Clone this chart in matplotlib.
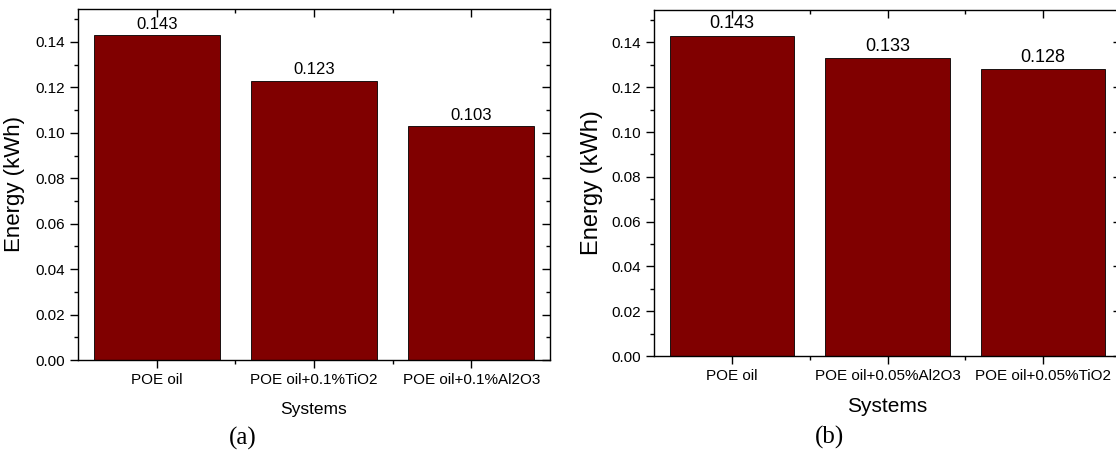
import numpy as np
import matplotlib
matplotlib.use("Agg")
import matplotlib.pyplot as plt
from matplotlib.ticker import MultipleLocator, FixedLocator

plt.rcParams['font.family'] = ['Liberation Sans', 'DejaVu Sans']

# data
systems_a = ["POE oil", "POE oil+0.1%TiO2", "POE oil+0.1%Al2O3"]
energy_a = [0.143, 0.123, 0.103]
systems_b = ["POE oil", "POE oil+0.05%Al2O3", "POE oil+0.05%TiO2"]
energy_b = [0.143, 0.133, 0.128]

BAR = "#800000"

fig = plt.figure(figsize=(11.16, 4.54), dpi=100)
ax_a = fig.add_axes([78/1116, 94/454, 472/1116, 351/454])
ax_b = fig.add_axes([654/1116, 98/454, 467/1116, 346/454])


def panel(ax, cats, vals, fs_val, fs_xlab, fs_ylab, ylab_x, xlab_y):
    x = np.arange(len(cats))
    bars = ax.bar(x, vals, width=0.8, color=BAR, edgecolor="black", linewidth=0.6)
    for b, v in zip(bars, vals):
        ax.annotate(f"{v:.3f}", (b.get_x() + b.get_width()/2, v),
                    xytext=(0, 2.5), textcoords="offset points",
                    ha="center", va="bottom", fontsize=fs_val)
    ax.set_xlim(-0.5, len(cats) - 0.5)
    ax.set_ylim(0, 0.1545)
    ax.set_xticks(x)
    ax.set_xticklabels(cats, fontsize=11)
    ax.xaxis.set_minor_locator(FixedLocator(x[:-1] + 0.5))
    ax.yaxis.set_major_locator(MultipleLocator(0.02))
    ax.yaxis.set_minor_locator(MultipleLocator(0.01))
    ax.yaxis.set_major_formatter(matplotlib.ticker.FormatStrFormatter("%.2f"))
    ax.tick_params(axis="y", labelsize=11)
    ax.tick_params(which="major", length=6, width=1, direction="out", pad=3)
    ax.tick_params(which="minor", length=3, width=1, direction="out")
    ax.tick_params(top=True, right=True, which="both")
    # mirrored axes point inward
    for t in ax.xaxis.get_major_ticks() + ax.xaxis.get_minor_ticks():
        t.tick2line.set_marker(matplotlib.lines.TICKDOWN)
    for t in ax.yaxis.get_major_ticks() + ax.yaxis.get_minor_ticks():
        t.tick2line.set_marker(matplotlib.lines.TICKLEFT)
    for s in ax.spines.values():
        s.set_linewidth(1)
    ax.set_ylabel("Energy (kWh)", fontsize=fs_ylab)
    ax.set_xlabel("Systems", fontsize=fs_xlab)
    ax.yaxis.set_label_coords(ylab_x, 0.5)
    ax.xaxis.set_label_coords(0.5, xlab_y)


panel(ax_a, systems_a, energy_a, 12, 12.5, 16, -0.112, -0.120)
panel(ax_b, systems_b, energy_b, 13, 15, 17, -0.109, -0.118)

fig.text(243/1116, 1 - 438/454, "(a)", family="Liberation Serif",
         fontsize=18, ha="center", va="center")
fig.text(829/1116, 1 - 437/454, "(b)", family="Liberation Serif",
         fontsize=18, ha="center", va="center")

fig.savefig("out.png", dpi=100)
